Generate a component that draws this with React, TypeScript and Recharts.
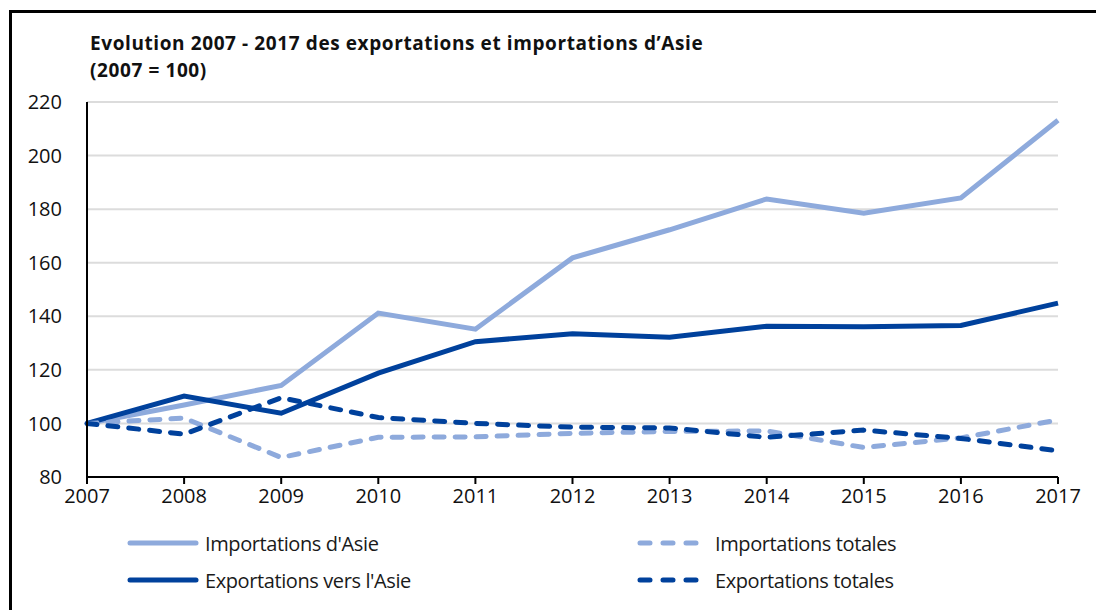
import { CartesianGrid, Line, LineChart, XAxis, YAxis } from 'recharts'

const years = ['2007', '2008', '2009', '2010', '2011', '2012', '2013', '2014', '2015', '2016', '2017']
const importsAsia = [100, 106.9, 114.2, 141.2, 135.2, 161.8, 172.3, 183.8, 178.5, 184.2, 213.2]
const exportsAsia = [100, 110.2, 103.8, 118.8, 130.5, 133.5, 132.2, 136.3, 136.1, 136.6, 144.9]
const importsTotal = [100, 102, 87.3, 94.8, 95, 96.3, 97, 97.2, 91, 94.6, 101.3]
const exportsTotal = [100, 96, 109.6, 102.2, 100, 98.6, 98.3, 94.8, 97.5, 94.4, 89.8]
const yTicks = [80, 100, 120, 140, 160, 180, 200, 220]

const light = '#8eaadc'
const dark = '#00419c'
const font = '"Open Sans", sans-serif'

const data = years.map((year, i) => ({
    year,
    importsAsia: importsAsia[i],
    exportsAsia: exportsAsia[i],
    importsTotal: importsTotal[i],
    exportsTotal: exportsTotal[i],
}))

const legendItems = [
    { label: "Importations d'Asie", color: light, dashed: false, left: 126, top: 531 },
    { label: 'Importations totales', color: light, dashed: true, left: 636, top: 531 },
    { label: "Exportations vers l'Asie", color: dark, dashed: false, left: 126, top: 568 },
    { label: 'Exportations totales', color: dark, dashed: true, left: 636, top: 568 },
]

function ChartLegend() {
    return (
        <>
            {legendItems.map((item) => (
                <div
                    key={item.label}
                    style={{ position: 'absolute', left: item.left, top: item.top, display: 'flex', alignItems: 'center', height: 24 }}
                >
                    <svg width={74} height={12}>
                        <line
                            x1={4}
                            y1={6}
                            x2={70}
                            y2={6}
                            stroke={item.color}
                            strokeWidth={5}
                            strokeLinecap="round"
                            strokeDasharray={item.dashed ? '10 13' : undefined}
                        />
                    </svg>
                    <span style={{ marginLeft: 5, fontFamily: font, fontSize: 20, color: '#1a1a1a', letterSpacing: -0.4 }}>
                        {item.label}
                    </span>
                </div>
            ))}
        </>
    )
}

export default function App() {
    const tick = { fill: '#111', fontSize: 20, fontFamily: font }
    return (
        <div style={{ position: 'fixed', left: 0, top: 0, width: 1096, height: 610, background: '#fff' }}>
            <div
                style={{
                    position: 'absolute',
                    left: 9,
                    top: 10,
                    width: 1087,
                    height: 600,
                    borderTop: '3px solid #000',
                    borderLeft: '3px solid #000',
                }}
            />
            <div
                style={{
                    position: 'absolute',
                    left: 90,
                    top: 30,
                    fontFamily: font,
                    fontWeight: 700,
                    fontSize: 19,
                    letterSpacing: 0.6,
                    lineHeight: '27px',
                    color: '#111',
                }}
            >
                Evolution 2007 - 2017 des exportations et importations d’Asie
                <br />
                (2007 = 100)
            </div>
            <div style={{ position: 'absolute', left: 0, top: 0 }}>
                <LineChart width={1096} height={610} data={data} margin={{ top: 102, right: 38, bottom: 103, left: 27 }}>
                    <CartesianGrid vertical={false} stroke="#dcdcdc" strokeWidth={2} />
                    <XAxis
                        dataKey="year"
                        tick={tick}
                        tickLine={{ stroke: '#000', strokeWidth: 2 }}
                        tickSize={7}
                        tickMargin={5}
                        axisLine={{ stroke: '#000', strokeWidth: 2 }}
                        interval={0}
                        height={30}
                    />
                    <YAxis
                        domain={[80, 220]}
                        ticks={yTicks}
                        tick={tick}
                        tickLine={false}
                        axisLine={{ stroke: '#000', strokeWidth: 2 }}
                        width={60}
                        tickMargin={19}
                    />
                    <Line dataKey="importsAsia" stroke={light} strokeWidth={5} dot={false} isAnimationActive={false} />
                    <Line dataKey="exportsAsia" stroke={dark} strokeWidth={5} dot={false} isAnimationActive={false} />
                    <Line
                        dataKey="importsTotal"
                        stroke={light}
                        strokeWidth={5}
                        strokeDasharray="10 11"
                        strokeLinecap="round"
                        dot={false}
                        isAnimationActive={false}
                    />
                    <Line
                        dataKey="exportsTotal"
                        stroke={dark}
                        strokeWidth={5}
                        strokeDasharray="10 11"
                        strokeLinecap="round"
                        dot={false}
                        isAnimationActive={false}
                    />
                </LineChart>
            </div>
            <ChartLegend />
        </div>
    )
}
